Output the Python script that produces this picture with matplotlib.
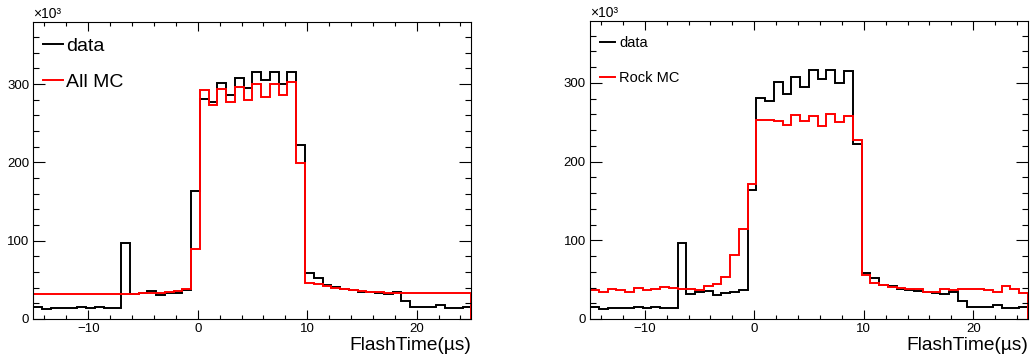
import numpy as np
import matplotlib
matplotlib.use('Agg')
import matplotlib.pyplot as plt
from matplotlib.ticker import MultipleLocator

plt.rcParams['font.family'] = ['Liberation Sans', 'DejaVu Sans']

# FlashTime binning: 50 bins of 0.8 us from -15 to 25
edges = np.linspace(-15, 25, 51)

# counts in units of 10^3
data_k = [15, 12.8, 13.6, 13.6, 13.6, 15, 13.6, 15.8, 13.6, 14.5,
          97, 32, 33.7, 35.4, 30.7, 32.8, 33.7, 36.8,
          164, 280.8, 276.5, 301.3, 286.4, 307.3, 295.3, 316, 304.6, 316, 300, 315.5, 222.5,
          58.4, 52.5, 43.5, 41.3, 38.3, 37, 35, 34, 32.8, 31.5, 34, 23.4,
          15, 15.8, 15.8, 17.9, 14.5, 14.5, 15]

all_mc_k = [32, 32, 32, 31.5, 31.5, 31.5, 31.5, 31.5, 31.5, 31.5, 31.5,
            32, 32.8, 33.7, 33.5, 34.5, 35.8, 38,
            90, 292.7, 273.5, 293.5, 277.7, 296.8, 279.9, 300.4, 284, 300.4, 285.4, 302, 199.8,
            45.6, 44.3, 42.6, 40, 38, 37, 36, 35, 34, 33.7, 33.7, 32.8,
            32.8, 32.8, 32.8, 32.8, 32.8, 32.8, 32.8]

rock_mc_k = [36.9, 34.8, 37.8, 37, 34.8, 39, 37, 37.8, 40.3, 39, 38.6,
             38, 37, 42.4, 44, 53, 81.9, 114,
             172, 252.4, 252.4, 252, 246, 259.5, 251, 258.3, 244.7, 260.4, 250, 257.5, 227,
             56, 46.2, 43.3, 41.2, 39, 37.8, 37.8, 34.8, 34.8, 38.2, 36.9, 38.2,
             38.2, 37.8, 36.9, 33.9, 42, 37.8, 33.5]

# (label, values, legend font size, legend spacing, text pad, legend anchor, axes rect)
panels = [('All MC', all_mc_k, 14, 0.95, 0.2, (0.022, 0.95), [0.0325, 0.1139, 0.4252, 0.8245]),
          ('Rock MC', rock_mc_k, 10.5, 1.45, 0.3, (0.023, 0.948), [0.5728, 0.1139, 0.4252, 0.8286])]

fig = plt.figure(figsize=(10.3, 3.6), dpi=100)

for mc_name, mc_vals, leg_fs, leg_sp, leg_pad, leg_anchor, rect in panels:
    ax = fig.add_axes(rect)
    ax.stairs(data_k, edges, baseline=0, color='black', lw=1.4, label='data')
    ax.stairs(mc_vals, edges, baseline=0, color='#ff0000', lw=1.4, label=mc_name)
    ax.set_xlim(-15, 25)
    ax.set_ylim(0, 379)
    ax.xaxis.set_major_locator(MultipleLocator(10))
    ax.xaxis.set_minor_locator(MultipleLocator(2))
    ax.yaxis.set_major_locator(MultipleLocator(100))
    ax.yaxis.set_minor_locator(MultipleLocator(20))
    ax.tick_params(which='both', direction='in', top=True, right=True, labelsize=9.5, width=0.8)
    ax.tick_params(axis='x', which='major', length=6.5, pad=3)
    ax.tick_params(axis='x', which='minor', length=3.2)
    ax.tick_params(axis='y', which='major', length=8.6, pad=3)
    ax.tick_params(axis='y', which='minor', length=4.3)
    for sp in ax.spines.values():
        sp.set_linewidth(0.8)
    ax.set_xlabel('FlashTime(µs)', loc='right', fontsize=13.8, labelpad=1)
    ax.text(0, 1.003, '×10³', transform=ax.transAxes, ha='left', va='bottom', fontsize=10)
    ax.legend(loc='upper left', bbox_to_anchor=leg_anchor, frameon=False, fontsize=leg_fs,
              handlelength=1.0, handletextpad=leg_pad, labelspacing=leg_sp,
              borderaxespad=0, borderpad=0)

fig.savefig('out.png', dpi=100)
